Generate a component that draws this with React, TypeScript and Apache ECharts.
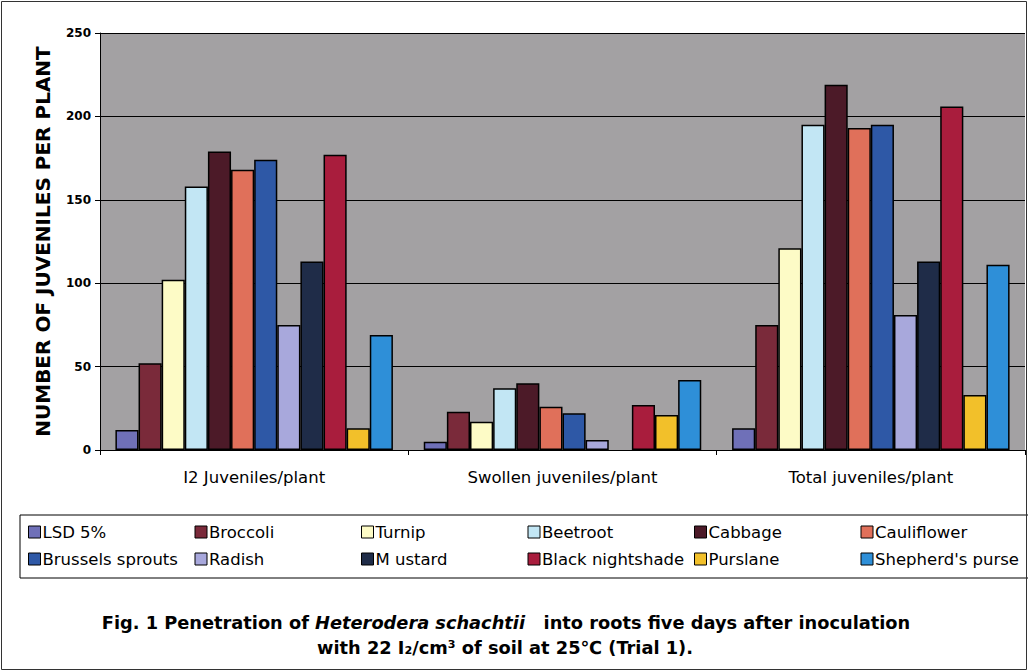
import React, { useEffect, useRef } from "react";
import * as echarts from "echarts";

const categories = ["I2 Juveniles/plant", "Swollen juveniles/plant", "Total juveniles/plant"];
const seriesNames = [
  "LSD 5%", "Broccoli", "Turnip", "Beetroot", "Cabbage", "Cauliflower",
  "Brussels sprouts", "Radish", "M ustard", "Black nightshade", "Purslane", "Shepherd's purse",
];
const seriesColors = [
  "#6f70b8", "#7a2a3a", "#fdfbc6", "#c2e6f4", "#4c1a28", "#e0705a",
  "#2e58a6", "#a8a8dc", "#1f2c48", "#a91d3d", "#f2c02a", "#2e8fd8",
];
const lsd = [12, 5, 13];
const broccoli = [52, 23, 75];
const turnip = [102, 17, 121];
const beetroot = [158, 37, 195];
const cabbage = [179, 40, 219];
const cauliflower = [168, 26, 193];
const brussels = [174, 22, 195];
const radish = [75, 6, 81];
const mustard = [113, null, 113];
const nightshade = [177, 27, 206];
const purslane = [13, 21, 33];
const shepherds = [69, 42, 111];
const seriesValues = [lsd, broccoli, turnip, beetroot, cabbage, cauliflower, brussels, radish, mustard, nightshade, purslane, shepherds];
const yTicks = [0, 50, 100, 150, 200, 250];

const WIDE = "DejaVu Sans, Verdana, sans-serif";

export default function App() {
  const ref = useRef<HTMLDivElement>(null);
  useEffect(() => {
    document.body.style.margin = "0";
    const chart = echarts.init(ref.current!, null, { renderer: "svg" });
    chart.setOption({
      animation: false,
      backgroundColor: "#ffffff",
      textStyle: { fontFamily: WIDE },
      grid: { left: 100, right: 3, top: 33, height: 417, containLabel: false, show: true, backgroundColor: "#a3a1a3", borderWidth: 0 },
      xAxis: {
        type: "category",
        data: categories,
        axisLine: { lineStyle: { color: "#000", width: 1 } },
        axisTick: { show: true, length: 5, lineStyle: { color: "#000" } },
        axisLabel: { color: "#000", fontSize: 16.5, fontFamily: WIDE, margin: 19 },
      },
      yAxis: {
        type: "value",
        min: yTicks[0],
        max: yTicks[yTicks.length - 1],
        interval: 50,
        name: "NUMBER OF JUVENILES PER PLANT",
        nameLocation: "middle",
        nameGap: 47,
        nameRotate: 90,
        nameTextStyle: { color: "#000", fontSize: 20, fontWeight: "bold", fontFamily: WIDE },
        axisLine: { show: true, lineStyle: { color: "#000" } },
        axisTick: { show: true, length: 5, lineStyle: { color: "#000" } },
        axisLabel: { color: "#000", fontSize: 12, fontWeight: "bold", fontFamily: WIDE, margin: 9 },
        splitLine: { show: true, lineStyle: { color: "#000", width: 1 } },
      },
      legend: {
        left: 28,
        top: 521,
        width: 1010,
        itemWidth: 12,
        itemHeight: 12,
        itemGap: 5,
        icon: "rect",
        orient: "horizontal",
        padding: 0,
        data: seriesNames,
        itemStyle: { borderColor: "#000", borderWidth: 1 },
        textStyle: { color: "#000", fontSize: 16.5, fontFamily: WIDE, width: 147, padding: [0, 0, 0, -3], lineHeight: 22 },
      },
      series: seriesNames.map((name, i) => ({
        name,
        type: "bar",
        data: seriesValues[i],
        barGap: "0%",
        barCategoryGap: "10%",
        itemStyle: { color: seriesColors[i], borderColor: "#000", borderWidth: 1.5 },
      })),
      graphic: [
        { type: "rect", shape: { x: 1.5, y: 1.5, width: 1025, height: 668 }, style: { fill: "none", stroke: "#333", lineWidth: 1 }, silent: true, z: 100 },
        { type: "rect", shape: { x: 20, y: 515, width: 1030, height: 63 }, style: { fill: "none", stroke: "#000", lineWidth: 1 }, silent: true },
        {
          type: "text",
          x: 506,
          y: 622,
          style: {
            text: "{b|Fig. 1 Penetration of }{i|Heterodera schachtii}{b|   into roots five days after inoculation}",
            align: "center",
            verticalAlign: "middle",
            rich: {
              b: { fontFamily: WIDE, fontWeight: "bold", fontSize: 17.8, fill: "#000" },
              i: { fontFamily: WIDE, fontWeight: "bold", fontStyle: "italic", fontSize: 17.8, fill: "#000" },
            },
          },
        },
        {
          type: "text",
          x: 505,
          y: 647,
          style: {
            text: "with 22 I₂/cm³ of soil at 25℃ (Trial 1).",
            align: "center",
            verticalAlign: "middle",
            fontFamily: WIDE,
            fontWeight: "bold",
            fontSize: 17.8,
            fill: "#000",
          },
        },
      ],
    });
    return () => chart.dispose();
  }, []);
  return <div ref={ref} style={{ width: 1028, height: 671 }} />;
}
